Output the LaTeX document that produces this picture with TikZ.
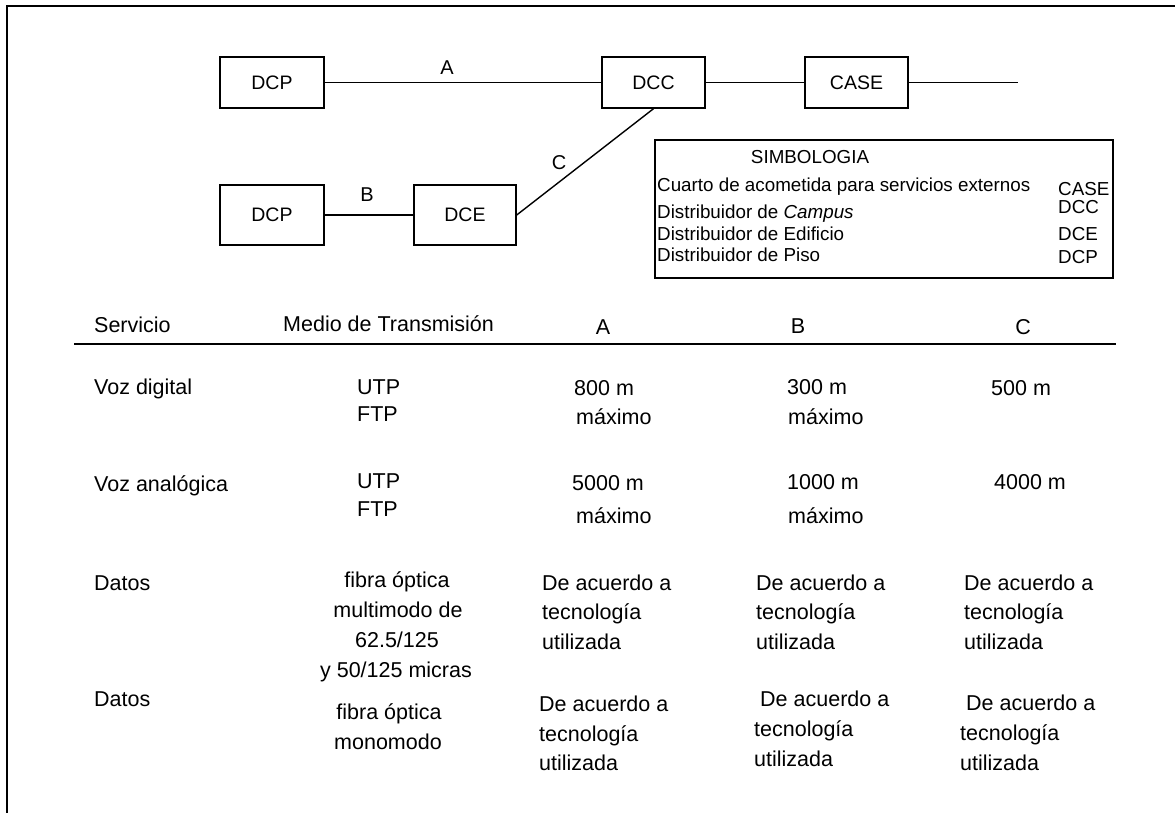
\documentclass[tikz,border=0pt]{standalone}
\usepackage{fontspec}
\setmainfont{Liberation Sans}
\begin{document}
\begin{tikzpicture}[x=1pt,y=-1pt,
  box/.style={draw,line width=1.4pt,minimum width=103pt,minimum height=51pt,inner sep=0pt,
              font=\fontsize{19.5}{22}\selectfont},
  tallbox/.style={box,minimum height=60pt},
  wire/.style={line width=1.4pt},
  tag/.style={inner sep=0pt,font=\fontsize{20}{22}\selectfont},
  ln/.style={inner sep=0pt,anchor=base west,font=\fontsize{21.5}{24}\selectfont},
  cln/.style={ln,anchor=base},
  leg/.style={inner sep=0pt,anchor=base west,font=\fontsize{18.8}{21}\selectfont}]
\useasboundingbox (0,0) rectangle (1175,812);
\clip (0,0) rectangle (1175,812);
\fill[white] (0,0) rectangle (1175,812);
% outer frame
\draw[line width=2pt] (7,830) -- (7,6) -- (1190,6);

% distribution network
\node[box,minimum width=104pt] (dcp1) at (272,82.5) {DCP};
\node[box] (dcc) at (653.5,82.5) {DCC};
\node[box] (case) at (856.5,82.5) {CASE};
\coordinate (tail) at (1018,82.5);
\node[tallbox,minimum width=104pt] (dcp2) at (272,215) {DCP};
\node[tallbox,minimum width=102pt] (dce) at (465,215) {DCE};
\draw[wire] (dcp1) -- (dcc);
\node[tag] (la) at (447,68) {A};
\draw[wire] (dcc) -- (case);
\draw[wire] (case) -- (tail);
\draw[wire] (dcp2) -- (dce);
\node[tag] (lb) at (367,195) {B};
\draw[wire] (dce.east) -- (dcc.south);
\node[tag] (lc) at (559,163) {C};

% legend
\node[draw,line width=1.4pt,minimum width=458pt,minimum height=138pt,inner sep=0pt] (legend) at (884,209) {};
\node[inner sep=0pt,anchor=base,font=\fontsize{18.8}{21}\selectfont] (legt) at (810,163) {SIMBOLOGIA};
\node[leg] (l1) at (657,191) {Cuarto de acometida para servicios externos};
\node[leg] (l2) at (657,218) {Distribuidor de \textit{Campus}};
\node[leg] (l3) at (657,240) {Distribuidor de Edificio};
\node[leg] (l4) at (657,261) {Distribuidor de Piso};
\node[leg] (r1) at (1058,195) {CASE};
\node[leg] (r2) at (1058,213) {DCC};
\node[leg] (r3) at (1058,240) {DCE};
\node[leg] (r4) at (1058,263) {DCP};

% table header
\node[ln] (h1) at (94,332) {Servicio};
\node[ln] (h2) at (283,331) {Medio de Transmisión};
\node[cln] (h3) at (603,334) {A};
\node[cln] (h4) at (798,333) {B};
\node[cln] (h5) at (1023,334) {C};
\coordinate (ruleL) at (74,344);
\coordinate (ruleR) at (1116,344);
\draw[line width=2pt] (ruleL) -- (ruleR);

% voz digital
\node[ln] (s1) at (94,394) {Voz digital};
\node[ln] (m1a) at (357,394) {UTP};
\node[ln] (m1b) at (357,421) {FTP};
\node[ln] (a1a) at (574,395) {800 m};
\node[ln] (a1b) at (576,424) {máximo};
\node[ln] (b1a) at (787,394) {300 m};
\node[ln] (b1b) at (788,424) {máximo};
\node[ln] (c1a) at (991,395) {500 m};

% voz analogica
\node[ln] (s2) at (94,491) {Voz analógica};
\node[ln] (m2a) at (357,488) {UTP};
\node[ln] (m2b) at (357,516) {FTP};
\node[ln] (a2a) at (572,490) {5000 m};
\node[ln] (a2b) at (576,523) {máximo};
\node[ln] (b2a) at (787,489) {1000 m};
\node[ln] (b2b) at (788,523) {máximo};
\node[ln] (c2a) at (994,489) {4000 m};

% datos, fibra multimodo
\node[ln] (s3) at (94,590) {Datos};
\node[cln] (m3a) at (397,587) {fibra óptica};
\node[cln] (m3b) at (398,617) {multimodo de};
\node[cln] (m3c) at (397,647) {62.5/125};
\node[cln] (m3d) at (396,677) {y 50/125 micras};
\node[ln] (a3a) at (542,590) {De acuerdo a};
\node[ln] (a3b) at (542,619) {tecnología};
\node[ln] (a3c) at (542,649) {utilizada};
\node[ln] (b3a) at (756,590) {De acuerdo a};
\node[ln] (b3b) at (756,619) {tecnología};
\node[ln] (b3c) at (756,649) {utilizada};
\node[ln] (c3a) at (964,590) {De acuerdo a};
\node[ln] (c3b) at (964,619) {tecnología};
\node[ln] (c3c) at (964,649) {utilizada};

% datos, fibra monomodo
\node[ln] (s4) at (94,706) {Datos};
\node[cln] (m4a) at (389,719) {fibra óptica};
\node[cln] (m4b) at (388,749) {monomodo};
\node[ln] (a4a) at (539,711) {De acuerdo a};
\node[ln] (a4b) at (539,741) {tecnología};
\node[ln] (a4c) at (539,770) {utilizada};
\node[ln] (b4a) at (760,706) {De acuerdo a};
\node[ln] (b4b) at (754,736) {tecnología};
\node[ln] (b4c) at (754,766) {utilizada};
\node[ln] (c4a) at (966,710) {De acuerdo a};
\node[ln] (c4b) at (960,740) {tecnología};
\node[ln] (c4c) at (960,770) {utilizada};
\end{tikzpicture}
\end{document}
